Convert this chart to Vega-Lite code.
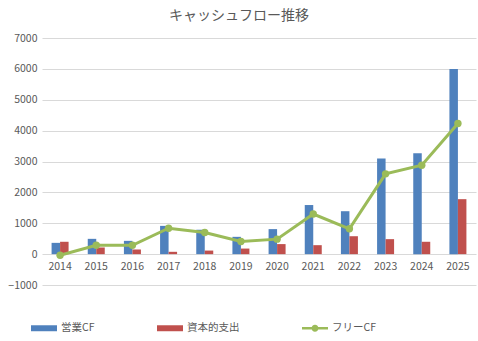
{
  "$schema": "https://vega.github.io/schema/vega-lite/v6.json",
  "width": 434,
  "height": 247,
  "autosize": "none",
  "padding": {"left": 42, "top": 38, "right": 2, "bottom": 56},
  "background": "white",
  "config": {
    "font": "Noto Sans CJK JP",
    "view": {"stroke": null},
    "axis": {"labelColor": "#595959", "labelFont": "Noto Sans CJK JP", "labelFontSize": 10.5, "gridColor": "#D9D9D9", "gridWidth": 1}
  },
  "title": {"text": "キャッシュフロー推移", "fontSize": 14, "fontWeight": "normal", "color": "#595959", "font": "Noto Sans CJK JP", "dx": -20, "offset": 10},
  "data": {"values": [
    {"year": "2014", "series": "営業CF", "value": 365},
    {"year": "2015", "series": "営業CF", "value": 495},
    {"year": "2016", "series": "営業CF", "value": 430},
    {"year": "2017", "series": "営業CF", "value": 915},
    {"year": "2018", "series": "営業CF", "value": 790},
    {"year": "2019", "series": "営業CF", "value": 560},
    {"year": "2020", "series": "営業CF", "value": 810},
    {"year": "2021", "series": "営業CF", "value": 1590},
    {"year": "2022", "series": "営業CF", "value": 1390},
    {"year": "2023", "series": "営業CF", "value": 3100},
    {"year": "2024", "series": "営業CF", "value": 3270},
    {"year": "2025", "series": "営業CF", "value": 6000},
    {"year": "2014", "series": "資本的支出", "value": 400},
    {"year": "2015", "series": "資本的支出", "value": 215},
    {"year": "2016", "series": "資本的支出", "value": 150},
    {"year": "2017", "series": "資本的支出", "value": 75},
    {"year": "2018", "series": "資本的支出", "value": 115},
    {"year": "2019", "series": "資本的支出", "value": 180},
    {"year": "2020", "series": "資本的支出", "value": 325},
    {"year": "2021", "series": "資本的支出", "value": 290},
    {"year": "2022", "series": "資本的支出", "value": 580},
    {"year": "2023", "series": "資本的支出", "value": 485},
    {"year": "2024", "series": "資本的支出", "value": 400},
    {"year": "2025", "series": "資本的支出", "value": 1780},
    {"year": "2014", "series": "フリーCF", "value": -35},
    {"year": "2015", "series": "フリーCF", "value": 285},
    {"year": "2016", "series": "フリーCF", "value": 285},
    {"year": "2017", "series": "フリーCF", "value": 840},
    {"year": "2018", "series": "フリーCF", "value": 700},
    {"year": "2019", "series": "フリーCF", "value": 410},
    {"year": "2020", "series": "フリーCF", "value": 485},
    {"year": "2021", "series": "フリーCF", "value": 1300},
    {"year": "2022", "series": "フリーCF", "value": 820},
    {"year": "2023", "series": "フリーCF", "value": 2600},
    {"year": "2024", "series": "フリーCF", "value": 2880},
    {"year": "2025", "series": "フリーCF", "value": 4230}
  ]},
  "encoding": {
    "x": {"field": "year", "type": "nominal", "title": null,
      "scale": {"paddingInner": 0.53, "paddingOuter": 0.265},
      "axis": {"labelAngle": 0, "domain": false, "ticks": false, "offset": -31, "labelPadding": 7, "grid": false}},
    "y": {"field": "value", "type": "quantitative", "title": null,
      "scale": {"domain": [-1000, 7000], "nice": false},
      "axis": {"values": [-1000, 0, 1000, 2000, 3000, 4000, 5000, 6000, 7000], "format": "d", "domain": false, "ticks": false, "labelPadding": 5, "grid": true}},
    "color": {"field": "series", "type": "nominal",
      "scale": {"domain": ["営業CF", "資本的支出", "フリーCF"], "range": ["#4F81BD", "#C0504D", "#9BBB59"]},
      "legend": {"title": null, "orient": "none", "direction": "horizontal", "legendX": -11, "legendY": 277,
        "labelFontSize": 10.5, "labelColor": "#595959", "labelFont": "Noto Sans CJK JP",
        "symbolSize": 676, "symbolStrokeWidth": 0, "columnPadding": 62, "labelOffset": 4,
        "encode": {"symbols": {"update": {
          "shape": {"signal": "datum.value === 'フリーCF' ? 'M-1,-0.09H1V0.09H-1Z M0.27,0A0.27,0.27 0 1 1 -0.27,0A0.27,0.27 0 1 1 0.27,0Z' : 'M-1,-0.23H1V0.23H-1Z'"},
          "strokeWidth": {"value": 0},
          "fillOpacity": {"value": 1}
        }}}}}
  },
  "layer": [
    {
      "transform": [{"filter": "datum.series !== 'フリーCF'"}],
      "mark": {"type": "bar"},
      "encoding": {
        "xOffset": {"field": "series", "type": "nominal", "scale": {"domain": ["営業CF", "資本的支出"], "paddingInner": 0, "paddingOuter": 0}}
      }
    },
    {
      "transform": [{"filter": "datum.series === 'フリーCF'"}],
      "mark": {"type": "line", "strokeWidth": 3, "point": {"filled": true, "size": 55}},
      "encoding": {}
    }
  ]
}
